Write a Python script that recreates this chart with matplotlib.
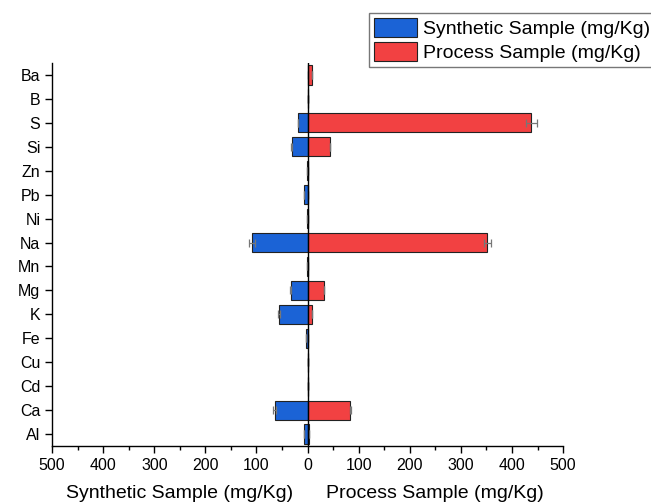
import matplotlib
matplotlib.use("Agg")
import matplotlib.pyplot as plt
import numpy as np
from matplotlib.ticker import MultipleLocator, FuncFormatter

plt.rcParams.update({
    "font.family": ["Liberation Sans", "DejaVu Sans"],
    "font.size": 11,
    "axes.linewidth": 1.0,
})

# ---- data (mg/Kg) ----
elements = ["Al", "Ca", "Cd", "Cu", "Fe", "K", "Mg", "Mn", "Na", "Ni",
            "Pb", "Zn", "Si", "S", "B", "Ba"]
synthetic = [7, 64, 0, 0, 4, 56, 33, 1, 108, 1, 8, 2, 31, 18, 0, 0]
synthetic_err = [0, 3, 0, 0, 0, 2, 1, 0, 6, 0, 0, 0, 1, 0, 0, 0]
process = [2, 83, 0, 0, 0, 9, 33, 0, 352, 0, 0, 0, 44, 438, 1, 9]
process_err = [0, 1, 0, 0, 0, 0, 0, 0, 6, 0, 0, 0, 0, 10, 0, 0]

blue = "#1b63d6"
red = "#f24142"

fig = plt.figure(figsize=(6.51, 5.04), dpi=100)
ax = fig.add_axes([0.080, 0.115, 0.785, 0.760])

y = np.arange(len(elements))
h = 0.8
ekw = {"ecolor": "#777777", "capsize": 3, "elinewidth": 0.9, "capthick": 0.9}
ax.barh(y, -np.array(synthetic), h, color=blue, edgecolor="#222222",
        linewidth=0.8, label="Synthetic Sample (mg/Kg)",
        xerr=synthetic_err, error_kw=ekw)
ax.barh(y, process, h, color=red, edgecolor="#222222",
        linewidth=0.8, label="Process Sample (mg/Kg)",
        xerr=process_err, error_kw=ekw)
ax.axvline(0, color="black", linewidth=1.0, zorder=3)

ax.set_xlim(-500, 500)
ax.set_ylim(-0.5, len(elements) - 0.5)
ax.set_yticks(y)
ax.set_yticklabels(elements)
ax.xaxis.set_major_locator(MultipleLocator(100))
ax.xaxis.set_minor_locator(MultipleLocator(50))
ax.xaxis.set_major_formatter(FuncFormatter(lambda v, p: f"{abs(v):.0f}"))
ax.tick_params(axis="both", direction="out", length=5, width=1.0, labelsize=11.5)
ax.tick_params(axis="x", which="minor", direction="out", length=3, width=1.0)
ax.spines["top"].set_visible(False)
ax.spines["right"].set_visible(False)

fig.text(180 / 651, 1 - 494 / 504, "Synthetic Sample (mg/Kg)", ha="center", va="center", fontsize=14)
fig.text(435 / 651, 1 - 494 / 504, "Process Sample (mg/Kg)", ha="center", va="center", fontsize=14)

fig.legend(loc="upper left", bbox_to_anchor=(369 / 651, 1 - 13 / 504), fontsize=14,
           frameon=True, fancybox=False, edgecolor="#555555", handlelength=2.2,
           handleheight=1.15, borderpad=0.25, labelspacing=0.2, handletextpad=0.35,
           borderaxespad=0)

fig.savefig("out.png", dpi=100)
